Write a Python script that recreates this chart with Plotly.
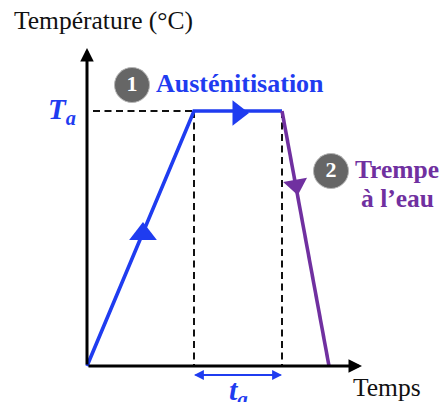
import plotly.graph_objects as go

# axis units are pixels from the origin of the diagram
BLUE = "#1f3cf0"
PURPLE = "#7030a0"
SERIF = "Liberation Serif"

heat_time = [0, 107, 195]
heat_temp = [0, 255, 255]
quench_time = [195, 242]
quench_temp = [255, 0]
ta_level = 255
ta_start = 107
ta_end = 195
axis_top = 318
axis_end = 275

fig = go.Figure()


def dashed(x, y):
    fig.add_trace(go.Scatter(x=x, y=y, mode="lines",
                             line=dict(color="#111111", width=2, dash="7px,4.5px")))


def arrow(x0, y0, x1, y1, color, width=2, size=1.0, head=2):
    fig.add_annotation(x=x1, y=y1, ax=x0, ay=y0, xref="x", yref="y", axref="x", ayref="y",
                       text="", showarrow=True, arrowhead=head, arrowsize=size,
                       arrowwidth=width, arrowcolor=color)


def label(x, y, text, color="#111111", size=20, bold=False):
    fig.add_annotation(x=x, y=y, xref="x", yref="y", text=f"<b>{text}</b>" if bold else text,
                       showarrow=False, font=dict(family=SERIF, size=size, color=color))


# dashed guides
dashed([6, ta_start], [ta_level, ta_level])
dashed([ta_start, ta_start], [ta_level, 0])
dashed([ta_end, ta_end], [ta_level, 0])

# temperature cycle
fig.add_trace(go.Scatter(x=heat_time, y=heat_temp, mode="lines",
                         line=dict(color=BLUE, width=3.6)))
fig.add_trace(go.Scatter(x=quench_time, y=quench_temp, mode="lines",
                         line=dict(color=PURPLE, width=3.6)))

# direction triangles on the segments
fig.add_trace(go.Scatter(x=[56, 151], y=[132, 253], mode="markers",
                         marker=dict(symbol="triangle-up", size=[24, 22], color=BLUE, opacity=1,
                                     angle=[0, 90], line=dict(width=0))))
fig.add_trace(go.Scatter(x=[209], y=[181], mode="markers",
                         marker=dict(symbol="triangle-down", size=21, color=PURPLE, opacity=1,
                                     angle=-10, line=dict(width=0))))

# numbered discs
fig.add_trace(go.Scatter(x=[45, 244], y=[281, 195], mode="markers+text",
                         text=["<b>1</b>", "<b>2</b>"], textposition="middle center",
                         textfont=dict(family=SERIF, size=22, color="white"),
                         marker=dict(size=35, color="#666666",
                                     line=dict(color="#b5b5b5", width=1))))

# axes
arrow(0, 0, 0, axis_top, "black", width=3, size=0.9)
arrow(0, 0, axis_end, 0, "black", width=3, size=0.9)
arrow(ta_start, -9, ta_end, -9, BLUE, width=1.8, size=1.1)
arrow(ta_end, -9, ta_start, -9, BLUE, width=1.8, size=1.1)

# texts
label(16, 346, "Température (°C)", size=25.5)
label(153, 283, "Austénitisation", color=BLUE, size=26, bold=True)
label(-25, 255, "<i>T<sub>a</sub></i>", color=BLUE, size=29, bold=True)
label(310, 197, "Trempe", color=PURPLE, size=25.5, bold=True)
label(310, 168, "à l’eau", color=PURPLE, size=25.5, bold=True)
label(299.5, -21, "Temps", size=25.5)
label(151, -26, "<i>t<sub>a</sub></i>", color=BLUE, size=30, bold=True)

fig.update_xaxes(visible=False, range=[-87, 357])
fig.update_yaxes(visible=False, range=[-36, 366])
fig.update_layout(width=444, height=402, margin=dict(l=0, r=0, t=0, b=0),
                  paper_bgcolor="white", plot_bgcolor="white", showlegend=False)

# the page's default body margin would push the figure 8px in
fig.write_html("out.html", config={"displayModeBar": False},
               post_script="document.body.style.margin='0';")
